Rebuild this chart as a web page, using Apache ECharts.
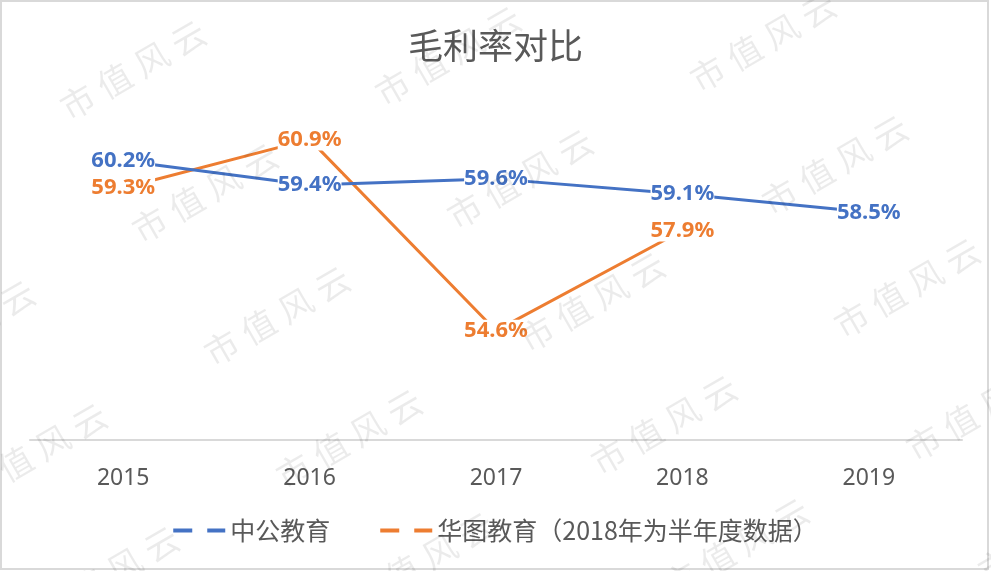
<!doctype html>
<html lang="zh">

<head>
    <meta charset="UTF-8">
    <title>毛利率对比</title>
    <script src="https://cdn.jsdelivr.net/npm/echarts@6/dist/echarts.min.js"></script>
    <style>
        html, body { margin: 0; padding: 0; background: #fff; }
        #main { width: 991px; height: 571px; }
    </style>
</head>

<body>
    <div id="main"></div>
</body>

<script>
    // 数据
    var years = ['2015', '2016', '2017', '2018', '2019'];
    var zhonggong = [60.2, 59.4, 59.6, 59.1, 58.5];
    var huatu = [59.3, 60.9, 54.6, 57.9, null];
    var seriesNames = ['中公教育', '华图教育（2018年为半年度数据）'];

    var BLUE = '#4472C4';
    var ORANGE = '#ED7D31';
    var GREY = '#595959';

    // 水印 市值风云
    var marks = [];
    for (var i = 0; i <= 5; i++) {
        for (var j = -1; j <= 3; j++) {
            marks.push({
                type: 'text',
                x: 133 + 315 * j + 72 * (i - 1),
                y: 70 - 14 * j + 123 * (i - 1),
                rotation: 30 * Math.PI / 180,
                z: 100,
                silent: true,
                style: {
                    text: '市\u2005值\u2005风\u2005云',
                    fill: 'rgba(0,0,0,0.08)',
                    font: '34px "Noto Sans CJK SC"',
                    textAlign: 'center',
                    textVerticalAlign: 'middle'
                }
            });
        }
    }
    // 外框
    marks.push({
        type: 'rect',
        shape: { x: 1, y: 1, width: 987, height: 568 },
        style: { fill: 'none', stroke: '#d9d9d9', lineWidth: 2 },
        silent: true
    });

    function labelOf(color) {
        return {
            show: true,
            position: 'inside',
            formatter: '{c}%',
            color: color,
            fontFamily: '"Noto Sans", sans-serif',
            fontWeight: 'bold',
            fontSize: 22,
            backgroundColor: '#fff',
            padding: [0, 0]
        };
    }

    var chart = echarts.init(document.getElementById('main'));
    chart.setOption({
        backgroundColor: '#fff',
        animation: false,
        title: {
            text: '毛利率对比',
            left: 'center',
            top: 23,
            textStyle: {
                color: GREY,
                fontSize: 35,
                fontWeight: 'normal',
                fontFamily: '"Noto Sans CJK SC"'
            }
        },
        legend: {
            bottom: 23,
            left: 'center',
            itemGap: 50,
            itemWidth: 52,
            itemHeight: 4,
            textStyle: {
                color: GREY,
                fontSize: 25,
                fontFamily: '"Noto Sans CJK SC"'
            },
            data: [
                { name: seriesNames[0], icon: 'path://M0,0h19v4h-19zM34,0h18v4h-18z' },
                { name: seriesNames[1], icon: 'path://M0,0h19v4h-19zM34,0h18v4h-18z' }
            ]
        },
        grid: { left: 30, right: 29, top: 106, bottom: 131 },
        xAxis: {
            type: 'category',
            data: years,
            axisLine: { lineStyle: { color: '#d9d9d9', width: 2 } },
            axisTick: { show: false },
            axisLabel: {
                color: GREY,
                fontSize: 23,
                margin: 27,
                fontFamily: '"Noto Sans", sans-serif'
            }
        },
        yAxis: {
            type: 'value',
            min: 51,
            max: 62,
            show: false,
            splitLine: { show: false }
        },
        series: [
            {
                name: seriesNames[0],
                type: 'line',
                data: zhonggong,
                color: BLUE,
                symbol: 'circle',
                symbolSize: 0,
                lineStyle: { width: 3, color: BLUE },
                label: labelOf(BLUE),
                z: 3
            },
            {
                name: seriesNames[1],
                type: 'line',
                data: huatu,
                color: ORANGE,
                symbol: 'circle',
                symbolSize: 0,
                lineStyle: { width: 3, color: ORANGE },
                label: labelOf(ORANGE),
                z: 2
            }
        ],
        graphic: marks
    });
</script>

</html>
